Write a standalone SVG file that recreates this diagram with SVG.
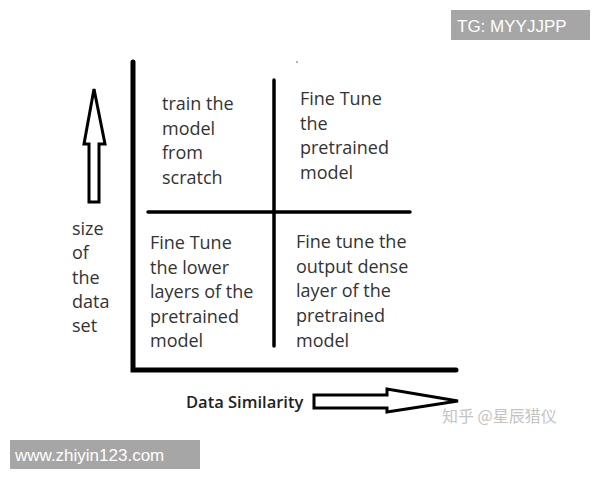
<svg xmlns="http://www.w3.org/2000/svg" width="600" height="480" viewBox="0 0 600 480">
<style>
.t{font-family:"Open Sans","Noto Sans",sans-serif;font-size:18px;fill:#333}
.ax{stroke:#000;stroke-linecap:round;fill:none}
.arr{fill:#fff;stroke:#000;stroke-width:3;stroke-linejoin:miter}
.wm{font-family:"Liberation Sans",Arial,sans-serif;font-size:17px;fill:#fff}
</style>
<rect width="600" height="480" fill="#fff"/>
<g id="axes">
<path class="ax" stroke-width="5" d="M133,62 V370 H456"/>
<path class="ax" stroke-width="3.5" d="M274,80 V346"/>
<path class="ax" stroke-width="3.5" d="M148,212 H410"/>
<circle cx="297" cy="62" r="0.8" fill="#555"/>
</g>
<g id="y-arrow">
<path class="arr" d="M94,89 L105,144 L99,144 L99,202 L89,202 L89,144 L84,144 Z"/>
</g>
<g id="x-arrow">
<path class="arr" d="M314,395 L387,395 L387,389 L458,401 L387,412 L387,408 L314,408 Z"/>
</g>
<g id="q-top-left">
<text class="t" x="162" y="110">train the</text>
<text class="t" x="162" y="135">model</text>
<text class="t" x="162" y="159">from</text>
<text class="t" x="162" y="184">scratch</text>
</g>
<g id="q-top-right">
<text class="t" x="300" y="105">Fine Tune</text>
<text class="t" x="300" y="130">the</text>
<text class="t" x="300" y="154">pretrained</text>
<text class="t" x="300" y="179">model</text>
</g>
<g id="q-bottom-left">
<text class="t" x="150" y="249">Fine Tune</text>
<text class="t" x="150" y="274">the lower</text>
<text class="t" x="150" y="298">layers of the</text>
<text class="t" x="150" y="323">pretrained</text>
<text class="t" x="150" y="347">model</text>
</g>
<g id="q-bottom-right">
<text class="t" x="296" y="248">Fine tune the</text>
<text class="t" x="296" y="273">output dense</text>
<text class="t" x="296" y="297">layer of the</text>
<text class="t" x="296" y="322">pretrained</text>
<text class="t" x="296" y="347">model</text>
</g>
<g id="y-label">
<text class="t" x="72" y="235">size</text>
<text class="t" x="72" y="259">of</text>
<text class="t" x="72" y="284">the</text>
<text class="t" x="72" y="308">data</text>
<text class="t" x="72" y="332">set</text>
</g>
<g id="x-label">
<text class="t" x="186" y="408" style="font-size:16.5px;font-weight:600;fill:#222">Data Similarity</text>
</g>
<g id="watermarks">
<text x="442" y="422" style="font-family:'Noto Sans CJK SC',sans-serif;font-size:16px;fill:#c4c4c4">知乎 @星辰猎仪</text>
<rect x="451" y="10" width="139" height="30" fill="#a6a6a6"/>
<text class="wm" x="457" y="32">TG: MYYJJPP</text>
<rect x="10" y="440" width="190" height="29" fill="#a6a6a6"/>
<text class="wm" x="15" y="461">www.zhiyin123.com</text>
</g>
</svg>
